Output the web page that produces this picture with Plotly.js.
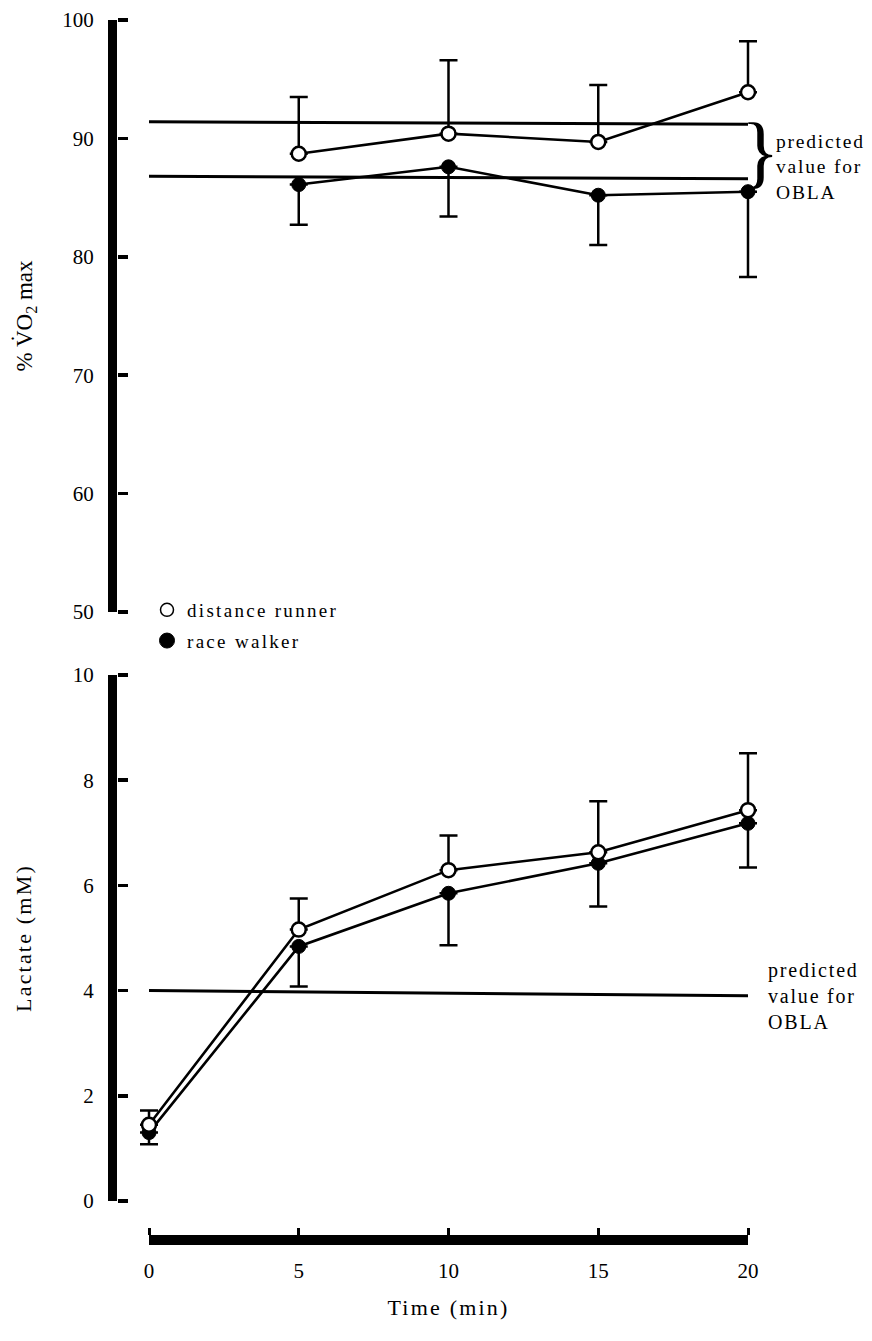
<!DOCTYPE html>
<html><head><meta charset="utf-8">
<script src="https://cdn.plot.ly/plotly-3.0.1.min.js"></script>
<style>
html,body{margin:0;padding:0;background:#fff}
.legendtext{letter-spacing:2.3px}
.annotation-text.spaced{letter-spacing:1.8px}
.ytitle{letter-spacing:2.2px}
.x3title{letter-spacing:2.2px}
</style>
</head><body><div id="chart" style="width:872px;height:1341px"></div>
<script>
// ---- data ----
const timeVO2 = [5, 10, 15, 20];
const vo2Runner = [88.7, 90.4, 89.7, 93.9];
const vo2RunnerSDup = [4.8, 6.2, 4.8, 4.3];
const vo2Walker = [86.1, 87.6, 85.2, 85.5];
const vo2WalkerSDdown = [3.4, 4.2, 4.2, 7.2];
const oblaX = [0, 20];
const oblaVO2Upper = [91.4, 91.2];
const oblaVO2Lower = [86.8, 86.6];

const timeLac = [0, 5, 10, 15, 20];
const lacRunner = [1.45, 5.16, 6.29, 6.63, 7.43];
const lacRunnerSDup = [0.27, 0.59, 0.66, 0.97, 1.08];
const lacWalker = [1.3, 4.84, 5.85, 6.42, 7.18];
const lacWalkerSDdown = [0.22, 0.76, 0.99, 0.82, 0.84];
const oblaLac = [4.0, 3.9];

const xTicks = [0, 5, 10, 15, 20];
const vo2Ticks = [50, 60, 70, 80, 90, 100];
const lacTicks = [0, 2, 4, 6, 8, 10];
const seriesNames = ['distance runner', 'race walker'];

// ---- style ----
const FONT = 'Liberation Serif, Times New Roman, serif';
const W = 872, H = 1341;
const px = v => v / W;
const py = v => 1 - v / H;
const LW = 2.6;
const MS = 14;
const X0 = 149, X1 = 748;           // pixel positions of t = 0 and t = 20
const PAD = 12;                      // extra room so error-bar caps are not clipped
const pxPerMin = (X1 - X0) / 20;
const padMin = PAD / pxPerMin;

function errUp(arr){ return {type:'data', symmetric:false, array:arr, arrayminus:arr.map(()=>0), color:'#000', thickness:2.5, width:9}; }
function errDown(arr){ return {type:'data', symmetric:false, array:arr.map(()=>0), arrayminus:arr, color:'#000', thickness:2.5, width:9}; }

const lineStyle = {color:'#000', width:LW};
const traces = [
  {x:oblaX, y:oblaVO2Upper, xaxis:'x2', yaxis:'y2', mode:'lines', line:{color:'#000', width:3}, showlegend:false, cliponaxis:false},
  {x:oblaX, y:oblaVO2Lower, xaxis:'x2', yaxis:'y2', mode:'lines', line:{color:'#000', width:3}, showlegend:false, cliponaxis:false},
  {x:timeVO2, y:vo2Walker, xaxis:'x2', yaxis:'y2', mode:'lines+markers', line:lineStyle, cliponaxis:false,
   marker:{symbol:'circle', size:MS, color:'#000', line:{color:'#000', width:1}}, error_y:errDown(vo2WalkerSDdown), showlegend:false},
  {x:timeVO2, y:vo2Runner, xaxis:'x2', yaxis:'y2', mode:'lines+markers', line:lineStyle, cliponaxis:false,
   marker:{symbol:'circle', size:MS, color:'#fff', line:{color:'#000', width:2.5}}, error_y:errUp(vo2RunnerSDup), showlegend:false},
  {x:oblaX, y:oblaLac, xaxis:'x', yaxis:'y', mode:'lines', line:{color:'#000', width:3}, showlegend:false, cliponaxis:false},
  {x:timeLac, y:lacWalker, xaxis:'x', yaxis:'y', mode:'lines+markers', line:lineStyle, cliponaxis:false,
   marker:{symbol:'circle', size:MS, color:'#000', line:{color:'#000', width:1}}, error_y:errDown(lacWalkerSDdown), showlegend:false},
  {x:timeLac, y:lacRunner, xaxis:'x', yaxis:'y', mode:'lines+markers', line:lineStyle, cliponaxis:false,
   marker:{symbol:'circle', size:MS, color:'#fff', line:{color:'#000', width:2.5}}, error_y:errUp(lacRunnerSDup), showlegend:false},
  // legend entries
  {x:[null], y:[null], xaxis:'x', yaxis:'y', mode:'markers', name:seriesNames[0], legendgroup:'a',
   marker:{symbol:'circle', size:13, color:'#fff', line:{color:'#000', width:1.5}}},
  {x:[null], y:[null], xaxis:'x', yaxis:'y', mode:'markers', name:seriesNames[1], legendgroup:'b',
   marker:{symbol:'circle', size:15, color:'#000', line:{color:'#000', width:1}}},
  // empty traces that carry the axis-only subplots
  {x:[null], y:[null], xaxis:'x', yaxis:'y3', mode:'markers', showlegend:false},
  {x:[null], y:[null], xaxis:'x2', yaxis:'y4', mode:'markers', showlegend:false},
  {x:[null], y:[null], xaxis:'x3', yaxis:'y', mode:'markers', showlegend:false},
  {x:[null], y:[null], xaxis:'x4', yaxis:'y', mode:'markers', showlegend:false}
];

const tickFont = {family:FONT, size:21, color:'#000'};
const yCommon = {
  showline:true, linecolor:'#000', linewidth:9, ticks:'',
  showgrid:false, zeroline:false, tickfont:tickFont, anchor:'free', position:px(112), ticklabelstandoff:10
};
const yTickOnly = {
  side:'right', anchor:'free', position:px(116.5), showline:false, showgrid:false, zeroline:false,
  ticks:'outside', ticklen:10, tickwidth:3.5, tickcolor:'#000', showticklabels:false
};
const dataXDomain = [px(X0 - PAD), px(X1 + PAD)];
const dataXRange = [-padMin, 20 + padMin];

const layout = {
  width:W, height:H, margin:{l:0, r:0, t:0, b:0},
  paper_bgcolor:'#fff', plot_bgcolor:'rgba(0,0,0,0)',
  font:{family:FONT, color:'#000'},
  // data axes (hidden)
  xaxis:{domain:dataXDomain, range:dataXRange, anchor:'y', visible:false},
  xaxis2:{domain:dataXDomain, range:dataXRange, matches:'x', anchor:'y2', visible:false},
  // visible time axis (thick bar)
  xaxis3:{domain:[px(X0), px(X1)], range:[0, 20], anchor:'free', position:py(1240),
    showline:true, linecolor:'#000', linewidth:10, ticks:'',
    tickvals:xTicks, showgrid:false, zeroline:false, tickfont:tickFont, ticklabelstandoff:8,
    title:{text:'Time (min)', font:{family:FONT, size:22, color:'#000'}, standoff:16}},
  xaxis4:{overlaying:'x3', side:'top', anchor:'free', position:py(1235), range:[0, 20], tickvals:xTicks,
    showline:false, showgrid:false, zeroline:false, ticks:'outside', ticklen:7, tickwidth:3, tickcolor:'#000', showticklabels:false},
  yaxis:Object.assign({}, yCommon, {domain:[py(1201), py(675)], range:[0, 10], tickvals:lacTicks,
    title:{text:'Lactate (mM)', font:{family:FONT, size:22, color:'#000'}, standoff:34}}),
  yaxis2:Object.assign({}, yCommon, {domain:[py(612), py(20)], range:[50, 100], tickvals:vo2Ticks,
    title:{text:'% V\u0307O<sub>2</sub> max', font:{family:FONT, size:23, color:'#000'}, standoff:22}}),
  yaxis3:Object.assign({}, yTickOnly, {overlaying:'y', range:[0, 10], tickvals:lacTicks}),
  yaxis4:Object.assign({}, yTickOnly, {overlaying:'y2', range:[50, 100], tickvals:vo2Ticks}),
  showlegend:true,
  legend:{x:px(147), y:py(591), xanchor:'left', yanchor:'top', bgcolor:'rgba(0,0,0,0)',
    font:{family:FONT, size:19, color:'#000'}, tracegroupgap:3, itemwidth:30},
  annotations:[
    {xref:'paper', yref:'paper', x:px(774), y:py(167), xanchor:'left', yanchor:'middle', align:'left', showarrow:false,
     text:'predicted<br>value for<br>OBLA', font:{family:FONT, size:19.5, color:'#000'}},
    {xref:'paper', yref:'paper', x:px(766), y:py(996), xanchor:'left', yanchor:'middle', align:'left', showarrow:false,
     text:'predicted<br>value for<br>OBLA', font:{family:FONT, size:20, color:'#000'}},
    {xref:'paper', yref:'paper', x:px(760), y:py(151), xanchor:'center', yanchor:'middle', showarrow:false,
     text:'}', font:{family:FONT, size:80, color:'#000'}}
  ]
};

Plotly.newPlot('chart', traces, layout, {staticPlot:true, displayModeBar:false}).then(gd => {
  gd.querySelectorAll('.annotation-text').forEach((t, i) => { if (i < 2) t.classList.add('spaced'); });
});
</script></body></html>
